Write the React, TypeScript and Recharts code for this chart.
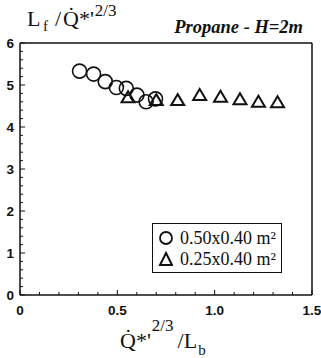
import React from 'react'
import { ScatterChart, Scatter, XAxis, YAxis } from 'recharts'

// 0.50x0.40 m² pan (circles)
const BIG_X = [0.306, 0.378, 0.438, 0.495, 0.546, 0.601, 0.648, 0.696]
const BIG_Y = [5.33, 5.26, 5.08, 4.94, 4.92, 4.76, 4.6, 4.67]
// 0.25x0.40 m² pan (triangles)
const SMALL_X = [0.555, 0.7, 0.81, 0.923, 1.03, 1.13, 1.225, 1.323]
const SMALL_Y = [4.71, 4.64, 4.64, 4.76, 4.72, 4.66, 4.6, 4.59]

const X_TICKS = [0, 0.1, 0.2, 0.3, 0.4, 0.5, 0.6, 0.7, 0.8, 0.9, 1.0, 1.1, 1.2, 1.3, 1.4, 1.5]
const X_LABELS: Record<string, string> = { '0': '0', '0.5': '0.5', '1': '1.0', '1.5': '1.5' }
const Y_TICKS = Array.from({ length: 31 }, (_, i) => Math.round(i * 2) / 10)
const Y_LABELS = [0, 1, 2, 3, 4, 5, 6]
const SERIES_NAMES = ['0.50x0.40 m²', '0.25x0.40 m²']

const big = BIG_X.map((x, i) => ({ x, y: BIG_Y[i] }))
const small = SMALL_X.map((x, i) => ({ x, y: SMALL_Y[i] }))

const tickFont = { fontFamily: 'Liberation Sans, Arial', fontWeight: 700, fontSize: 13.5, fill: '#111' }
const serif = 'Liberation Serif, Times New Roman, serif'

const Circle = (p: any) => (
  <circle cx={p.cx} cy={p.cy} r={7} fill="none" stroke="#111" strokeWidth={1.6} />
)
const Tri = (p: any) => (
  <path
    d={`M${p.cx},${p.cy - 6} L${p.cx + 6.5},${p.cy + 5} L${p.cx - 6.5},${p.cy + 5} Z`}
    fill="none"
    stroke="#111"
    strokeWidth={2}
  />
)

function XTick({ x, y, payload }: any) {
  const key = String(Math.round(payload.value * 10) / 10)
  const label = X_LABELS[key]
  return (
    <g>
      <line x1={x} x2={x} y1={y} y2={y - (label ? 5 : 3)} stroke="#111" />
      {label && (
        <text x={x} y={y + 20} textAnchor="middle" {...tickFont}>
          {label}
        </text>
      )}
    </g>
  )
}

function YTick({ x, y, payload }: any) {
  const major = Y_LABELS.includes(payload.value)
  return (
    <g>
      <line x1={x} x2={x + (major ? 5 : 3)} y1={y} y2={y} stroke="#111" />
      {major && (
        <text x={x - 6} y={y + 5} textAnchor="end" {...tickFont}>
          {payload.value}
        </text>
      )}
    </g>
  )
}

function LegendBox() {
  const row = (sym: React.ReactNode, label: string) => (
    <div style={{ display: 'flex', alignItems: 'center', height: 21 }}>
      <svg width={16} height={16}>{sym}</svg>
      <span style={{ marginLeft: 7, whiteSpace: 'nowrap' }}>{label}</span>
    </div>
  )
  return (
    <div
      style={{
        position: 'absolute',
        left: 152,
        top: 223,
        boxSizing: 'border-box',
        height: 50,
        width: 130,
        border: '1.5px solid #111',
        padding: '3px 5px',
        fontFamily: serif,
        fontSize: 18,
        lineHeight: '20px',
        color: '#111',
        background: '#fff',
      }}
    >
      {row(<circle cx={8} cy={8} r={6} fill="none" stroke="#111" strokeWidth={1.8} />, SERIES_NAMES[0])}
      {row(<path d="M8,2 L14,14 L2,14 Z" fill="none" stroke="#111" strokeWidth={2} />, SERIES_NAMES[1])}
    </div>
  )
}

export default function App() {
  return (
    <div style={{ position: 'absolute', left: 0, top: 0, width: 321, height: 358, background: '#fff' }}>
      <ScatterChart width={321} height={358} margin={{ top: 42, right: 8, bottom: 62, left: 19 }}>
        <XAxis
          type="number"
          dataKey="x"
          domain={[0, 1.5]}
          ticks={X_TICKS}
          tick={<XTick />}
          tickLine={false}
          tickSize={0}
          tickMargin={0}
          height={1}
          axisLine={{ stroke: '#111', strokeWidth: 1.5 }}
          interval={0}
        />
        <XAxis xAxisId="top" orientation="top" type="number" domain={[0, 1.5]} tick={false} tickLine={false} height={1} axisLine={{ stroke: '#111', strokeWidth: 1.5 }} />
        <YAxis
          type="number"
          dataKey="y"
          domain={[0, 6]}
          ticks={Y_TICKS}
          tick={<YTick />}
          tickLine={false}
          tickSize={0}
          tickMargin={0}
          width={1}
          axisLine={{ stroke: '#111', strokeWidth: 1.5 }}
          interval={0}
        />
        <YAxis yAxisId="right" orientation="right" type="number" domain={[0, 6]} tick={false} tickLine={false} width={1} axisLine={{ stroke: '#111', strokeWidth: 1.5 }} />
        <Scatter name={SERIES_NAMES[0]} data={big} shape={<Circle />} isAnimationActive={false} />
        <Scatter name={SERIES_NAMES[1]} data={small} shape={<Tri />} isAnimationActive={false} />
        <text x={303} y={33} textAnchor="end" fontFamily={serif} fontWeight={700} fontStyle="italic" fontSize={18.5} fill="#111">
          Propane - H=2m
        </text>
        <text fontFamily={serif} fontSize={22} fill="#111">
          <tspan x={27} y={26}>L</tspan>
          <tspan x={43} y={31} fontSize={15}>f</tspan>
          <tspan x={55} y={26}>/</tspan>
          <tspan x={63} y={26}>Q̇*'</tspan>
          <tspan dx={1} y={16} fontSize={17}>2/3</tspan>
        </text>
        <text fontFamily={serif} fontSize={22} fill="#111">
          <tspan x={120} y={348}>Q̇*'</tspan>
          <tspan dx={1} y={331} fontSize={17}>2/3</tspan>
          <tspan dx={4} y={348}>/L</tspan>
          <tspan dx={1} y={355} fontSize={15}>b</tspan>
        </text>
      </ScatterChart>
      <LegendBox />
    </div>
  )
}
